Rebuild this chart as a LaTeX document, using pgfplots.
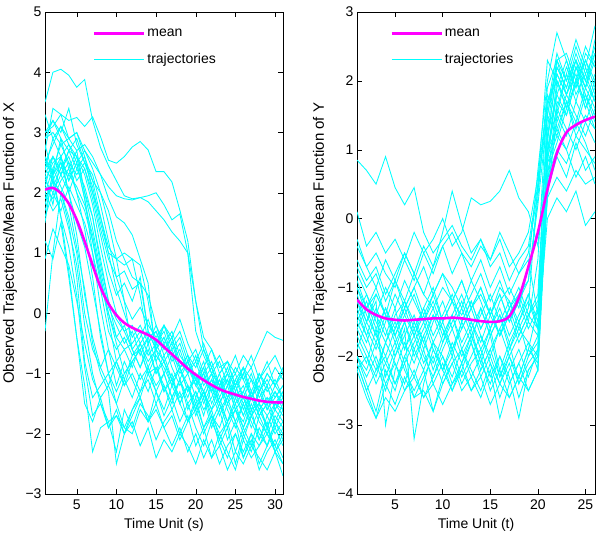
\documentclass[border=0pt]{standalone}
\usepackage{fontspec}
\setmainfont{Liberation Sans}
\usepackage{pgfplots}
\usepackage{pgfplotstable}
\pgfplotsset{compat=1.18}
\definecolor{mcyan}{RGB}{0,255,255}
\definecolor{mmagenta}{RGB}{255,0,255}

\pgfplotstableread{
id 1 2 3 4 5 6 7 8 9 10 11 12 13 14 15 16 17 18 19 20 21 22 23 24 25 26 27 28 29 30 31
E1 2.4 2.2 2.0 1.5 0.6 -0.8 -1.4 -1.2 -1.0 -0.8 -1.1 -0.7 -0.6 -1.0 -0.9 -1.3 -1.1 -1.5 -1.2 -1.6 -1.3 -1.8 -1.5 -1.9 -1.6 -2.0 -1.7 -1.5 -1.9 -1.6 -1.8
E2 1.8 2.3 1.6 0.7 -0.4 -1.2 -2.3 -1.9 -1.8 -1.7 -1.9 -1.6 -1.4 -1.8 -1.3 -1.6 -1.2 -1.5 -1.8 -1.4 -1.9 -1.6 -2.1 -1.8 -2.3 -1.9 -2.2 -1.7 -2.0 -2.2 -1.9
E3 -0.3 1.0 2.0 1.6 1.0 0.0 -0.6 -0.9 -1.2 -0.8 -0.6 -0.9 -0.5 -0.8 -0.6 -1.0 -0.7 -1.1 -0.8 -1.2 -0.9 -1.3 -1.0 -1.4 -1.1 -0.9 -1.3 -1.0 -1.2 -0.9 -1.1
E4 2.0 1.7 1.9 1.4 0.8 -0.2 -1.0 -1.5 -1.8 -2.3 -1.6 -1.9 -1.5 -1.7 -2.1 -1.8 -1.6 -2.0 -1.7 -2.2 -1.9 -2.4 -2.0 -2.3 -2.6 -2.1 -2.4 -2.2 -2.0 -2.3 -2.7
E5 1.5 2.4 2.1 1.8 1.1 0.4 -0.5 -1.0 -1.3 -2.5 -2.0 -1.6 -1.3 -1.1 -1.5 -1.2 -1.6 -1.3 -1.8 -1.5 -1.9 -1.7 -2.0 -1.8 -1.5 -1.9 -1.6 -2.1 -1.8 -2.3 -2.0
E6 2.1 1.9 2.2 2.4 2.0 1.4 0.6 -0.4 -1.0 -1.3 -1.0 -0.8 -1.1 -0.9 -1.3 -1.0 -1.4 -1.1 -1.6 -1.3 -1.7 -1.2 -1.5 -1.8 -1.4 -1.7 -1.3 -1.6 -1.9 -1.5 -1.7
E7 0.9 1.4 1.1 0.8 0.2 -0.5 -1.1 -1.4 -1.2 -1.5 -1.1 -1.4 -1.0 -1.3 -0.9 -1.2 -1.5 -1.1 -1.4 -1.0 -1.3 -1.6 -1.2 -1.5 -1.1 -1.4 -1.7 -1.3 -1.6 -1.4 -1.2
E8 2.6 2.3 2.5 2.0 1.3 0.3 -0.4 -0.9 -0.6 -0.9 -1.2 -0.8 -0.6 -1.0 -0.7 -0.9 -1.2 -0.9 -1.3 -1.0 -1.4 -1.1 -1.5 -1.2 -1.0 -1.4 -1.1 -1.5 -1.2 -1.6 -1.3
E9 2.2 2.5 2.6 2.0 1.5 1.1 0.4 -0.3 -1.0 -1.5 -1.9 -2.0 -1.6 -1.8 -1.5 -1.9 -1.7 -2.1 -1.8 -1.6 -2.0 -1.7 -2.2 -1.9 -2.5 -2.0 -2.3 -1.9 -2.2 -1.8 -2.1
E10 2.3 1.8 2.6 2.2 2.5 1.9 1.0 0.1 -0.6 -1.2 -0.8 -1.1 -1.4 -1.0 -1.3 -1.7 -1.4 -1.8 -1.5 -1.9 -2.2 -1.8 -2.1 -2.4 -2.0 -2.3 -2.0 -2.5 -2.2 -1.9 -2.2
E11 1.2 0.9 1.5 0.6 -0.4 -1.5 -1.8 -1.4 -1.9 -1.7 -2.0 -1.8 -2.2 -1.9 -2.4 -2.1 -2.3 -2.0 -2.2 -2.5 -2.1 -2.4 -2.2 -2.6 -2.3 -2.5 -2.2 -2.4 -2.6 -2.3 -2.5
E12 1.9 2.2 1.6 1.1 0.3 -0.9 -1.7 -1.5 -1.9 -1.6 -2.0 -1.7 -1.4 -1.8 -1.6 -1.9 -2.2 -1.9 -2.3 -2.0 -2.4 -2.1 -2.5 -2.2 -2.0 -2.4 -2.1 -2.6 -2.3 -2.1 -2.4
M1 2.8 2.3 2.9 2.4 2.7 2.0 1.6 0.8 0.2 -0.1 -0.3 -0.2 -0.5 -0.3 -0.6 -0.4 -0.7 -0.9 -0.8 -1.1 -1.0 -1.3 -1.1 -1.4 -1.2 -1.5 -1.3 -1.6 -1.4 -1.5 -1.3
M2 2.4 2.9 2.6 2.2 2.5 1.9 1.2 0.5 0.0 -0.4 -0.6 -0.5 -0.3 -0.7 -0.5 -0.8 -0.6 -1.0 -0.8 -1.2 -1.4 -1.1 -1.3 -1.0 -1.4 -1.2 -1.6 -1.3 -1.1 -1.4 -1.2
M3 1.9 2.1 2.4 2.6 2.2 2.4 1.9 1.3 0.7 0.3 0.5 0.2 0.6 -0.3 -0.5 -0.2 -0.6 -0.4 -0.8 -0.6 -1.0 -0.8 -1.2 -1.0 -0.7 -1.1 -0.9 -1.3 -1.0 -1.2 -0.9
M4 3.0 3.2 2.9 2.7 2.4 2.6 2.0 1.4 0.9 0.6 0.7 0.4 0.5 0.3 -0.2 -0.5 -0.3 -0.7 -0.9 -1.1 -1.3 -1.0 -1.5 -1.2 -1.6 -1.8 -1.4 -1.7 -1.5 -1.9 -1.6
M5 2.5 2.3 2.6 2.8 2.5 2.7 2.4 2.0 1.5 0.9 0.2 -0.6 -0.9 -0.5 -1.0 -0.7 -1.1 -1.4 -1.2 -1.6 -1.3 -1.7 -1.9 -1.5 -1.8 -2.1 -1.7 -2.0 -2.2 -1.8 -2.0
M6 1.6 2.0 1.7 2.1 1.8 1.5 1.0 0.4 -0.3 -0.6 -0.4 -0.7 -0.5 -0.9 -0.6 -0.8 -1.1 -0.9 -1.2 -1.5 -1.3 -1.6 -1.4 -1.8 -1.6 -1.9 -1.5 -1.8 -2.0 -1.7 -1.9
M7 2.7 3.4 3.3 2.9 3.0 2.6 2.2 1.6 1.1 0.9 1.0 0.9 0.8 0.2 -0.6 -0.4 -0.8 -0.6 -1.0 -0.8 -1.2 -1.0 -1.4 -1.1 -1.5 -1.3 -1.0 -1.4 -1.2 -1.6 -1.4
M8 2.2 2.0 2.3 2.5 2.0 1.7 1.2 0.6 0.0 -0.5 -1.0 -0.8 -0.6 -0.4 -0.8 -0.5 -0.9 -1.2 -1.0 -1.4 -1.1 -1.3 -1.7 -1.4 -1.2 -1.6 -1.3 -1.7 -1.5 -1.3 -1.6
M9 2.9 3.2 3.0 3.4 2.8 2.5 2.3 1.8 1.2 0.6 0.2 -0.1 0.1 -0.2 -0.4 -0.2 -0.5 -0.3 -0.7 -0.9 -0.6 -1.0 -0.8 -1.2 -0.9 -1.1 -1.4 -1.0 -1.3 -1.1 -1.4
M10 2.3 2.6 2.4 2.7 2.6 2.0 1.4 0.7 0.1 -0.2 -0.5 -0.3 -0.7 -0.4 -0.3 -0.6 -0.4 -0.8 -1.0 -0.7 -1.1 -0.9 -1.3 -1.1 -1.6 -1.4 -1.7 -1.5 -1.9 -2.2 -2.5
M11 1.7 2.2 2.5 2.3 2.6 2.3 1.8 1.1 0.5 0.0 -0.3 -0.6 -0.4 -0.1 -0.5 -0.3 -0.7 -0.5 -0.9 -1.2 -1.0 -1.5 -1.2 -1.6 -1.9 -1.5 -1.8 -2.1 -1.7 -2.0 -1.8
M12 2.0 2.4 2.8 2.5 2.3 2.5 2.1 1.5 1.0 0.9 0.8 0.9 0.3 -0.5 -0.2 -0.6 -0.4 -0.9 -0.7 -1.1 -0.8 -1.3 -1.0 -0.8 -1.2 -0.9 -1.4 -1.1 -0.8 -1.2 -1.0
M13 3.3 2.9 3.1 2.8 2.6 2.4 2.0 1.6 1.0 0.4 0.0 -0.4 -0.2 -0.5 -0.3 -0.7 -0.5 -0.9 -0.7 -1.1 -0.9 -0.6 -1.0 -0.8 -1.2 -1.0 -0.7 -1.1 -0.9 -0.7 -1.0
M14 2.1 2.6 2.3 2.0 2.4 2.1 1.6 0.9 0.2 -0.4 -0.2 -0.6 -0.9 -0.6 -1.0 -0.8 -1.2 -0.9 -1.3 -1.1 -1.5 -1.2 -1.6 -1.4 -1.8 -1.5 -1.9 -1.6 -1.4 -1.8 -1.5
M15 2.6 2.2 2.0 2.3 2.1 1.8 1.3 0.6 -0.1 -0.8 -1.2 -1.0 -1.3 -0.9 -1.2 -1.0 -1.4 -1.1 -1.5 -1.3 -1.6 -1.4 -1.1 -1.5 -1.3 -1.7 -1.4 -1.2 -1.6 -1.3 -1.5
ML1 2.5 2.8 3.1 2.9 2.7 2.8 2.6 2.3 1.9 1.6 1.5 1.3 0.9 0.5 -0.8 -1.3 -1.0 -1.5 -1.2 -1.7 -1.4 -1.9 -1.6 -2.1 -1.8 -2.4 -2.0 -2.2 -1.9 -2.3 -2.1
ML2 2.4 2.6 2.3 2.7 2.9 2.5 2.2 2.0 1.7 1.2 0.9 0.6 0.5 -0.3 -0.6 -0.2 -0.4 -0.1 -0.5 -0.8 -0.5 -0.9 -1.2 -0.9 -1.3 -1.0 -1.4 -1.1 -1.5 -1.2 -1.4
L1 3.5 4.0 4.05 3.95 3.75 3.88 3.2 2.75 2.45 2.2 1.95 1.9 1.92 1.85 1.7 1.55 1.35 1.2 1.0 0.2 -0.6 -0.9 -0.7 -1.0 -1.2 -0.9 -1.1 -1.3 -1.0 -1.2 -0.9
L2 3.0 3.1 3.3 3.2 3.25 3.1 3.26 2.93 2.54 2.49 2.6 2.76 2.85 2.71 2.35 2.35 2.18 1.71 1.2 0.2 -0.4 -0.6 -0.9 -0.8 -1.0 -0.7 -0.9 -0.6 -0.3 -0.4 -0.45
L3 2.9 3.0 2.8 2.9 3.0 2.7 2.5 2.3 2.1 1.95 1.9 1.88 1.92 1.95 2.0 1.8 1.55 1.65 1.0 -0.3 -0.7 -1.0 -1.2 -1.1 -1.4 -1.3 -1.6 -1.5 -1.7 -1.5 -1.6
}\leftraw
\pgfplotstabletranspose[colnames from=id]{\leftT}{\leftraw}

\pgfplotstableread{
id 1 2 3 4 5 6 7 8 9 10 11 12 13 14 15 16 17 18 19 20 21 22 23 24 25 26
R1 0.85 0.7 0.5 0.9 0.45 0.2 0.45 -0.2 -0.5 -0.3 -0.1 -0.4 -0.6 -0.3 -0.7 -0.5 -0.9 -0.6 -0.4 0.5 1.5 2.2 1.9 2.4 2.0 2.5
R2 0.1 -0.4 -0.2 -0.5 -0.3 -0.6 -0.2 -0.5 -0.8 -0.4 -0.2 -0.5 -0.7 -0.4 -0.6 -0.3 -0.7 -0.5 -0.2 0.6 1.7 2.0 1.6 2.2 1.8 1.4
R3 -0.4 -0.7 -0.5 -0.8 -1.0 -0.6 -0.9 -0.5 -0.3 0.0 -0.4 -0.2 0.3 0.2 0.25 0.4 0.7 0.3 0.1 -0.4 1.2 1.8 1.5 2.0 2.3 1.9
R4 -0.6 -0.9 -0.7 -1.1 -0.8 -0.5 -0.8 -0.4 -0.7 -0.2 0.4 -0.1 -0.5 -0.3 -0.6 -0.2 -0.5 -0.8 -0.6 -1.4 1.6 2.4 2.0 2.3 1.7 2.1
R5 -1.0 -1.3 -1.1 -1.4 -0.9 -1.2 -0.8 -1.1 -1.3 -1.0 -1.2 -0.9 -1.3 -1.1 -1.4 -1.0 -1.2 -1.5 -1.1 -1.6 1.0 1.6 2.1 1.7 2.2 1.8
R6 -1.5 -1.8 -1.4 -1.7 -1.3 -1.9 -1.5 -1.8 -1.4 -1.6 -2.0 -1.5 -1.8 -1.3 -1.7 -1.4 -1.9 -1.6 -1.8 -2.0 0.9 2.0 1.7 1.3 1.8 1.5
R7 -2.0 -2.4 -2.8 -2.2 -2.5 -2.0 -2.3 -1.9 -2.4 -2.1 -2.5 -2.2 -1.8 -2.3 -2.0 -2.4 -2.1 -2.6 -2.2 -2.0 0.4 0.9 0.6 1.1 0.7 0.9
R8 -1.2 -1.6 -1.9 -1.5 -1.1 -1.4 -1.7 -1.3 -1.0 -1.5 -1.2 -1.6 -1.3 -1.0 -1.4 -1.1 -1.5 -1.2 -0.9 0.3 1.9 2.3 1.8 2.1 1.6 2.0
R9 -1.8 -2.1 -1.6 -2.3 -1.9 -1.5 -2.0 -1.7 -2.2 -1.8 -1.4 -1.9 -1.6 -2.1 -1.7 -2.3 -1.9 -1.5 -2.0 -1.7 0.0 0.3 0.1 0.4 -0.1 0.1
R10 -0.8 -1.1 -1.4 -1.0 -1.3 -0.9 -1.2 -1.5 -1.1 -0.8 -1.0 -1.3 -0.9 -1.2 -1.6 -1.2 -1.0 -1.3 -0.7 0.7 2.0 2.7 2.3 1.9 2.4 2.2
R11 -2.1 -2.5 -2.2 -2.0 -2.4 -2.1 -2.6 -2.3 -2.0 -2.4 -2.1 -1.9 -2.3 -2.0 -2.5 -2.2 -2.6 -2.3 -1.9 -2.1 0.6 1.7 1.5 2.0 1.6 1.9
R12 -1.4 -1.1 -1.5 -1.8 -1.4 -1.2 -1.6 -1.3 -1.7 -1.4 -1.1 -1.5 -1.2 -1.6 -1.3 -1.7 -1.4 -1.1 -1.5 -0.6 1.8 1.5 2.1 2.6 2.2 2.8
R13 -1.7 -2.0 -2.3 -1.8 -2.1 -2.4 -1.9 -2.2 -1.8 -2.0 -2.3 -1.9 -2.2 -2.5 -2.1 -2.4 -2.0 -2.3 -1.9 -1.3 0.8 1.2 1.0 1.4 1.1 0.7
R14 -0.9 -1.3 -1.0 -1.4 -1.7 -1.3 -1.0 -1.4 -1.1 -1.5 -1.2 -0.9 -1.3 -1.0 -1.4 -1.7 -1.3 -1.0 -1.4 -1.1 1.5 2.3 2.4 2.0 2.5 2.2
R15 -2.2 -2.6 -2.9 -2.4 -2.7 -2.3 -2.6 -2.5 -2.8 -2.4 -2.1 -2.5 -2.3 -2.6 -2.2 -2.9 -2.4 -2.1 -2.5 -2.2 0.4 1.4 1.8 1.5 1.2 1.6
R16 -1.3 -1.7 -2.1 -2.5 -2.0 -1.6 -3.2 -2.4 -1.9 -2.2 -1.8 -2.1 -1.7 -2.0 -1.6 -2.2 -1.8 -2.4 -2.0 -1.8 0.8 1.9 2.3 1.8 2.1 1.7
R17 -1.1 -1.5 -1.2 -3.0 -2.2 -1.8 -2.1 -1.7 -1.4 -1.8 -1.5 -1.2 -1.6 -1.3 -1.7 -1.4 -1.8 -1.5 -1.2 -1.6 0.9 1.3 1.0 0.6 0.9 0.5
R18 -1.6 -1.9 -2.2 -1.8 -1.5 -1.9 -1.6 -2.0 -2.3 -1.9 -1.6 -2.0 -1.7 -2.1 -2.4 -2.0 -2.3 -2.9 -2.2 -2.0 1.1 2.2 1.9 2.3 1.9 2.4
R19 -0.7 -1.0 -0.8 -1.2 -0.9 -1.3 -1.0 -0.7 -1.1 -0.8 -1.2 -1.4 -1.1 -0.8 -1.2 -0.9 -1.3 -1.1 -0.9 0.2 1.5 1.2 1.7 1.4 1.9 1.6
R20 -2.0 -2.2 -1.8 -2.1 -2.4 -2.0 -1.7 -2.1 -1.8 -2.2 -1.9 -2.3 -2.0 -1.7 -2.1 -2.6 -2.2 -1.9 -2.3 -1.9 1.2 2.1 1.8 2.3 2.0 1.7
R21 -1.9 -1.5 -1.8 -1.4 -1.7 -2.1 -1.8 -1.5 -1.9 -2.2 -2.5 -2.1 -1.8 -2.2 -1.9 -1.6 -2.0 -1.7 -1.4 -1.6 1.0 1.3 1.7 1.2 1.5 1.3
R22 -2.1 -2.5 -2.9 -2.6 -2.8 -2.5 -2.3 -2.6 -2.4 -2.7 -2.4 -2.2 -2.5 -2.3 -2.7 -2.4 -2.6 -2.3 -2.5 -2.2 0.6 1.0 0.8 1.2 1.0 0.8
R23 -1.0 -1.4 -1.7 -1.3 -1.6 -1.2 -1.5 -1.9 -1.5 -1.2 -1.6 -1.3 -1.7 -1.4 -1.1 -1.5 -1.2 -1.6 -1.3 0.5 2.3 2.0 1.6 2.2 1.9 2.3
R24 -1.4 -1.7 -1.3 -1.6 -2.0 -1.7 -1.4 -1.8 -2.1 -1.7 -1.4 -1.8 -1.5 -1.9 -1.6 -1.3 -1.7 -1.4 -1.1 -1.5 0.3 1.5 1.2 1.7 1.4 1.1
R25 -2.2 -2.0 -2.4 -2.1 -1.8 -2.2 -2.5 -2.2 -2.8 -2.3 -2.0 -2.4 -2.1 -1.9 -2.3 -2.0 -2.4 -2.1 -1.8 -2.2 0.7 1.1 1.6 2.0 1.7 1.3
R26 -1.6 -1.3 -1.7 -2.0 -1.6 -1.3 -1.7 -1.4 -1.8 -1.5 -1.9 -1.6 -1.3 -1.7 -2.0 -1.6 -1.3 -1.7 -1.4 -1.2 1.3 2.3 2.0 2.5 2.1 2.4
R27 -0.3 -0.7 -1.0 -0.6 -0.9 -0.5 -0.8 -1.1 -0.7 -0.4 -0.8 -0.5 -0.9 -0.6 -1.0 -0.7 -1.1 -0.8 -0.5 0.4 1.7 2.1 1.8 2.2 1.9 2.6
R28 -2.0 -2.3 -2.0 -2.4 -2.1 -2.5 -2.2 -2.6 -2.3 -2.0 -2.4 -2.1 -2.5 -2.2 -1.9 -2.3 -2.0 -2.4 -2.1 -1.9 0.3 0.6 0.4 0.7 0.5 0.6
R29 -1.2 -1.5 -1.1 -1.4 -1.8 -1.5 -1.9 -1.6 -1.3 -1.7 -1.4 -1.1 -1.5 -1.8 -1.4 -1.1 -1.5 -1.2 -1.6 -1.3 0.5 1.6 1.3 1.0 1.4 1.8
R30 -1.5 -1.2 -1.6 -1.3 -1.7 -1.4 -1.1 -1.5 -1.2 -1.6 -1.9 -1.5 -1.2 -1.6 -1.3 -1.7 -1.4 -1.8 -1.5 -1.7 1.0 1.8 2.2 1.9 2.3 2.0
}\rightraw
\pgfplotstabletranspose[colnames from=id]{\rightT}{\rightraw}

\pgfplotsset{
  traj/.style={color=mcyan, line width=0.85pt, forget plot},
  meanline/.style={color=mmagenta, line width=2.6pt, smooth, forget plot},
  panel/.style={
    scale only axis, width=238pt, height=482pt,
    axis line style={black}, tick style={black, line width=0.4pt},
    major tick length=5pt,
    /pgf/number format/assume math mode=true,
    tick label style={font=\fontsize{14}{16}\selectfont},
    xticklabel style={yshift=-2pt},
    xlabel style={font=\fontsize{14}{16}\selectfont, at={(axis description cs:0.5,-0.064)}, anchor=center},
    ylabel style={font=\fontsize{15}{17}\selectfont},
    legend style={draw=none, fill=none, anchor=north west,
      font=\fontsize{14}{16}\selectfont, row sep=11pt, inner sep=0pt},
    legend cell align=left,
    legend image code/.code={\draw[##1] (0pt,0pt) -- (50pt,0pt);},
    xtick={5,10,15,20,25,30},
  },
}

\begin{document}
\begin{tikzpicture}
\begin{axis}[panel,
  xmin=1, xmax=31, ymin=-3, ymax=5,
  ytick={-3,-2,-1,0,1,2,3,4,5},
  yticklabels={−3,−2,−1,0,1,2,3,4,5},
  xlabel={Time Unit (s)},
  ylabel={Observed Trajectories/Mean Function of X},
  ylabel style={at={(axis description cs:-0.147,0.52)}, anchor=center},
  legend style={at={(axis description cs:0.2,0.969)}},
]
\addlegendimage{color=mmagenta, line width=2.6pt}
\addlegendentry{mean}
\addlegendimage{color=mcyan, line width=0.85pt}
\addlegendentry{trajectories}
\pgfplotsinvokeforeach{E1,E2,E3,E4,E5,E6,E7,E8,E9,E10,E11,E12,M1,M2,M3,M4,M5,M6,M7,M8,M9,M10,M11,M12,M13,M14,M15,ML1,ML2,L1,L2,L3}{
  \addplot[traj] table[x=colnames, y=#1] {\leftT};
}
\addplot[meanline] coordinates {
(1,2.05) (2,2.08) (3,1.99) (4,1.82) (5,1.55) (6,1.19) (7,0.8) (8,0.43) (9,0.16) (10,-0.03)
(11,-0.16) (12,-0.24) (13,-0.3) (14,-0.36) (15,-0.44) (16,-0.56) (17,-0.68) (18,-0.8)
(19,-0.92) (20,-1.02) (21,-1.11) (22,-1.19) (23,-1.26) (24,-1.31) (25,-1.35) (26,-1.39)
(27,-1.42) (28,-1.45) (29,-1.47) (30,-1.48) (31,-1.48)};
\end{axis}

\begin{axis}[panel, at={(312pt,0pt)},
  xmin=1, xmax=26, ymin=-4, ymax=3,
  ytick={-4,-3,-2,-1,0,1,2,3},
  yticklabels={−4,−3,−2,−1,0,1,2,3},
  xlabel={Time Unit (t)},
  ylabel={Observed Trajectories/Mean Function of Y},
  ylabel style={at={(axis description cs:-0.155,0.52)}, anchor=center},
  legend style={at={(axis description cs:0.139,0.969)}},
]
\addlegendimage{color=mmagenta, line width=2.6pt}
\addlegendentry{mean}
\addlegendimage{color=mcyan, line width=0.85pt}
\addlegendentry{trajectories}
\pgfplotsinvokeforeach{R1,R2,R3,R4,R5,R6,R7,R8,R9,R10,R11,R12,R13,R14,R15,R16,R17,R18,R19,R20,R21,R22,R23,R24,R25,R26,R27,R28,R29,R30}{
  \addplot[traj] table[x=colnames, y=#1] {\rightT};
}
\addplot[meanline] coordinates {
(1,-1.18) (2,-1.32) (3,-1.4) (4,-1.45) (5,-1.47) (6,-1.48) (7,-1.47) (8,-1.46) (9,-1.45)
(10,-1.45) (11,-1.44) (12,-1.45) (13,-1.47) (14,-1.49) (15,-1.5) (16,-1.49) (17,-1.42)
(18,-1.15) (19,-0.7) (20,-0.2) (21,0.42) (22,0.95) (23,1.25) (24,1.36) (25,1.43) (26,1.48)};
\end{axis}
\pgfresetboundingbox
\path[use as bounding box] (-45pt,-41pt) rectangle (555pt,494pt);
\end{tikzpicture}
\end{document}
